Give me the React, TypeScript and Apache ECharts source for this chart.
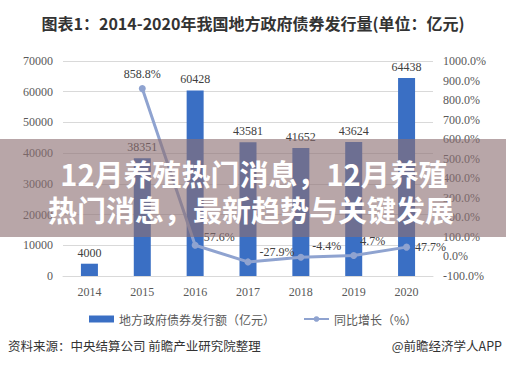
import React, { useEffect, useRef } from "react";
import * as echarts from "echarts";

const years = ["2014", "2015", "2016", "2017", "2018", "2019", "2020"];
const issuance = [4000, 38351, 60428, 43581, 41652, 43624, 64438];
const growth: (number | string)[] = ["-", 858.8, 57.6, -27.9, -4.4, 4.7, 47.7];
const growthLabelOffsets: [string, number[]][] = [
  ["top", [0, 0]],
  ["top", [0, 0]],
  ["right", [0, -8]],
  ["right", [3, -10]],
  ["right", [3, -11]],
  ["right", [-2, -15]],
  ["right", [0, 0]],
];

const titleText = "图表1：2014-2020年我国地方政府债券发行量(单位：亿元)";
const seriesNames = ["地方政府债券发行额（亿元）", "同比增长（%）"];
const bannerLines = ["12月养殖热门消息，12月养殖", "热门消息，最新趋势与关键发展"];
const sourceText = "资料来源：中央结算公司 前瞻产业研究院整理";
const brandText = "@前瞻经济学人APP";

const SERIF = "'Liberation Serif', 'Noto Sans CJK SC', serif";
const SANS = "'Noto Sans CJK SC', 'Liberation Sans', sans-serif";

export default function App() {
  const ref = useRef<HTMLDivElement>(null);
  useEffect(() => {
    if (!ref.current) return;
    const chart = echarts.init(ref.current, undefined, { renderer: "svg" });
    const lineData = growth.map((v, i) => {
      if (v === "-") return "-";
      const [pos, off] = growthLabelOffsets[i];
      return {
        value: v,
        label: { position: pos, offset: off },
      };
    });
    chart.setOption({
      animation: false,
      backgroundColor: "#ffffff",
      title: {
        text: titleText,
        left: "center",
        top: 10,
        textStyle: {
          fontSize: 16,
          fontWeight: "bold",
          color: "#333333",
          fontFamily: SANS,
        },
      },
      grid: { left: 63, right: 73, top: 61, bottom: 100 },
      legend: {
        top: 308,
        left: "center",
        itemGap: 28,
        itemWidth: 25,
        itemHeight: 7,
        textStyle: { fontSize: 12, color: "#595959", fontFamily: SANS },
        data: [
          { name: seriesNames[0], icon: "rect" },
          { name: seriesNames[1] },
        ],
      },
      xAxis: {
        type: "category",
        data: years,
        axisLine: { lineStyle: { color: "#d9d9d9" } },
        axisTick: { show: false },
        axisLabel: { color: "#595959", fontSize: 12, fontFamily: SERIF, margin: 10 },
      },
      yAxis: [
        {
          type: "value",
          min: 0,
          max: 70000,
          interval: 10000,
          axisLine: { show: false },
          axisTick: { show: false },
          splitLine: { lineStyle: { color: "#d9d9d9" } },
          axisLabel: {
            color: "#595959",
            fontSize: 12,
            fontFamily: SERIF,
            margin: 10,
            formatter: (v: number) => String(v),
          },
        },
        {
          type: "value",
          min: -100,
          max: 1000,
          interval: 100,
          axisLine: { show: false },
          axisTick: { show: false },
          splitLine: { show: false },
          axisLabel: {
            color: "#595959",
            fontSize: 12,
            fontFamily: SERIF,
            margin: 10,
            formatter: (v: number) => v.toFixed(1) + "%",
          },
        },
      ],
      series: [
        {
          name: seriesNames[0],
          type: "bar",
          data: issuance,
          barWidth: 17,
          itemStyle: { color: "#3a6fc4" },
          label: {
            show: true,
            position: "top",
            color: "#404040",
            fontSize: 12,
            fontFamily: SERIF,
          },
        },
        {
          name: seriesNames[1],
          type: "line",
          yAxisIndex: 1,
          data: lineData,
          symbol: "circle",
          symbolSize: 7,
          lineStyle: { color: "#8fa3d0", width: 3 },
          itemStyle: { color: "#8fa3d0" },
          label: {
            show: true,
            color: "#404040",
            fontSize: 12,
            fontFamily: SERIF,
            formatter: (p: any) => p.value + "%",
          },
          z: 3,
        },
      ],
      graphic: [
        {
          type: "rect",
          z: 100,
          shape: { x: 0, y: 139, width: 506, height: 98 },
          style: { fill: "rgba(140,112,115,0.62)" },
        },
        {
          type: "text",
          z: 101,
          x: 254,
          y: 173,
          style: {
            text: bannerLines[0],
            fill: "#ffffff",
            font: "bold 29px 'Noto Sans CJK SC', sans-serif",
            textAlign: "center",
            textVerticalAlign: "middle",
            shadowColor: "rgba(0,0,0,0.35)",
            shadowBlur: 3,
          },
        },
        {
          type: "text",
          z: 101,
          x: 251,
          y: 209,
          style: {
            text: bannerLines[1],
            fill: "#ffffff",
            font: "bold 29px 'Noto Sans CJK SC', sans-serif",
            textAlign: "center",
            textVerticalAlign: "middle",
            shadowColor: "rgba(0,0,0,0.35)",
            shadowBlur: 3,
          },
        },
        {
          type: "text",
          z: 101,
          x: 8,
          y: 345,
          style: {
            text: sourceText,
            fill: "#333333",
            font: "12.5px 'Noto Sans CJK SC', sans-serif",
            textAlign: "left",
            textVerticalAlign: "middle",
          },
        },
        {
          type: "text",
          z: 101,
          x: 502,
          y: 345,
          style: {
            text: brandText,
            fill: "#333333",
            font: "12.5px 'Noto Sans CJK SC', sans-serif",
            textAlign: "right",
            textVerticalAlign: "middle",
          },
        },
      ],
    });
    return () => chart.dispose();
  }, []);
  return (
    <div
      ref={ref}
      style={{ position: "absolute", left: 0, top: 0, width: 506, height: 376 }}
    />
  );
}
